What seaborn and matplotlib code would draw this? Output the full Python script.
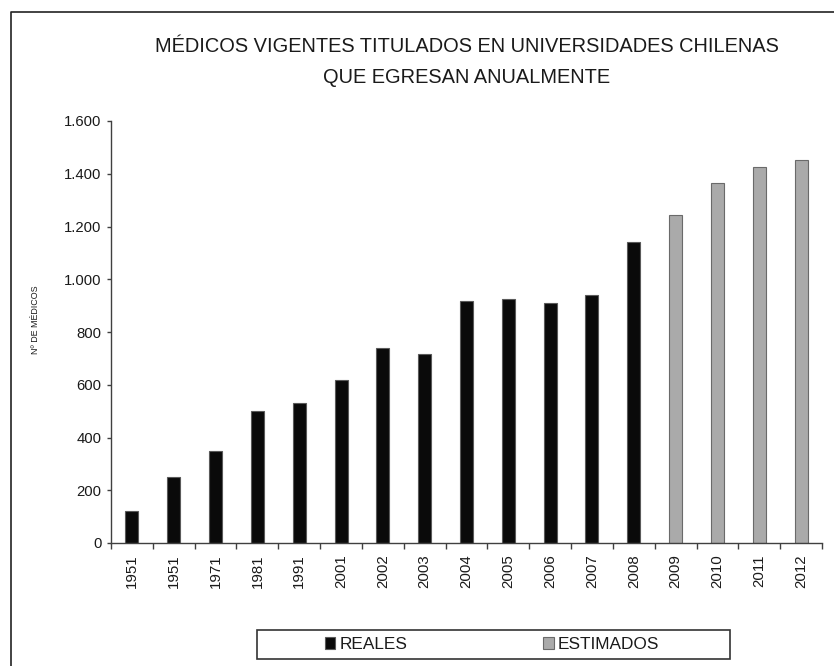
import numpy as np
import pandas as pd
import matplotlib
matplotlib.use("Agg")
import matplotlib.pyplot as plt
import seaborn as sns
from matplotlib.ticker import FuncFormatter, FixedLocator
from matplotlib.patches import Rectangle
from matplotlib.lines import Line2D

# ---- data ----
years = ["1951", "1951", "1971", "1981", "1991", "2001", "2002", "2003", "2004",
         "2005", "2006", "2007", "2008", "2009", "2010", "2011", "2012"]
medicos = [120, 250, 350, 500, 530, 617, 738, 718, 918,
           925, 911, 939, 1140, 1244, 1365, 1427, 1451]
tipo = ["REALES"] * 13 + ["ESTIMADOS"] * 4
series = ["REALES", "ESTIMADOS"]
y_ticks = [0, 200, 400, 600, 800, 1000, 1200, 1400, 1600]
title = "MÉDICOS VIGENTES TITULADOS EN UNIVERSIDADES CHILENAS\nQUE EGRESAN ANUALMENTE"
ylabel = "Nº DE MÉDICOS"

colors = {"REALES": "#0a0a0a", "ESTIMADOS": "#aaaaaa"}
edges = {"REALES": "#5a5a5a", "ESTIMADOS": "#6a6a6a"}

sns.set_theme(style="white")
plt.rcParams["font.family"] = ["Liberation Sans", "DejaVu Sans"]
TXT = "#1a1a1a"

W, H = 834, 666
fig = plt.figure(figsize=(W / 100, H / 100), dpi=100)
ax = fig.add_axes([111 / W, 123 / H, 711 / W, 422 / H])

df = pd.DataFrame({"pos": list(range(len(years))), "medicos": medicos, "tipo": tipo})
sns.barplot(data=df, x="pos", y="medicos", hue="tipo", hue_order=series,
            palette=colors, dodge=False, width=0.31, ax=ax, legend=True,
            saturation=1)

for cont, name in zip(ax.containers, series):
    for p in cont:
        p.set_edgecolor(edges[name])
        p.set_linewidth(0.8)

handles, labels = ax.get_legend_handles_labels()
if ax.get_legend() is not None:
    ax.get_legend().remove()
for h, name in zip(handles, labels):
    h.set_edgecolor(edges[name])
    h.set_linewidth(0.8)

# axes styling
ax.set_xlim(-0.5, len(years) - 0.5)
ax.set_ylim(0, 1600)
ax.set_xlabel("")
ax.set_ylabel("")
for s in ["top", "right"]:
    ax.spines[s].set_visible(False)
for s in ["left", "bottom"]:
    ax.spines[s].set_color("#404040")
    ax.spines[s].set_linewidth(1.0)

ax.yaxis.set_major_locator(FixedLocator(y_ticks))
ax.yaxis.set_major_formatter(FuncFormatter(lambda v, _: f"{int(v):,}".replace(",", ".")))
ax.tick_params(axis="y", direction="out", length=3, width=1, color="#404040",
               labelsize=10.7, labelcolor=TXT, pad=4, left=True)

ax.set_xticks(list(range(len(years))))
ax.set_xticklabels(years, rotation=90)
ax.set_xticks(np.arange(-0.5, len(years), 1.0), minor=True)
ax.tick_params(axis="x", which="major", length=0, labelsize=10.8, labelcolor=TXT, pad=8)
ax.tick_params(axis="x", which="minor", direction="out", length=4, width=1,
               color="#404040", bottom=True)

# title & y label
fig.text(466.5 / W, 1 - 62 / H, title, ha="center", va="center",
         fontsize=14.4, color=TXT, linespacing=1.75)
fig.text(36 / W, 1 - 320 / H, ylabel, rotation=90, ha="center", va="center",
         fontsize=6.4, color=TXT)

# legend
fig.legend(handles, labels, loc="center left", bbox_to_anchor=(316 / W, 1 - 644.5 / H),
           bbox_transform=fig.transFigure, ncol=2, frameon=False, fontsize=12.4,
           handlelength=0.6, handleheight=0.7, handletextpad=0.25,
           columnspacing=7.9, borderpad=0, labelcolor=TXT)
fig.patches.append(Rectangle((257 / W, 7 / H), 473 / W, 29 / H, transform=fig.transFigure,
                             fill=False, edgecolor="#333333", linewidth=1.2))

# outer frame (left and top only)
fig.lines.append(Line2D([11 / W, 11 / W, 1.0], [0.0, 1 - 12 / H, 1 - 12 / H],
                        transform=fig.transFigure, color="#222222", linewidth=1.2))

fig.savefig("out.png", dpi=100)
